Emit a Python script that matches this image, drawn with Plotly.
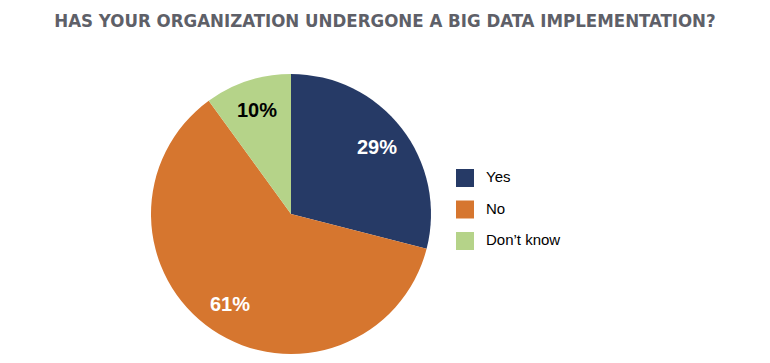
import math
import plotly.graph_objects as go

labels = ["Yes", "No", "Don’t know"]
values = [29, 61, 10]
colors = ["#263a66", "#d6762f", "#b5d389"]
text_colors = ["white", "white", "black"]
title = "HAS YOUR ORGANIZATION UNDERGONE A BIG DATA IMPLEMENTATION?"

W, H = 770, 363
CX, CY, R = 291, 214, 140  # pie centre / radius in pixels (layout)

fig = go.Figure(go.Pie(
    labels=labels,
    values=values,
    sort=False,
    direction="clockwise",
    rotation=0,
    marker=dict(colors=colors, line=dict(width=0)),
    textinfo="none",
    domain=dict(x=[(CX - R) / W, (CX + R) / W], y=[(H - CY - R) / H, (H - CY + R) / H]),
    hoverinfo="label+percent",
    showlegend=False,
))

# percentage labels placed at slice mid-angles (derived from the values)
total = sum(values)
cum = 0
annotations = []
for v, tc in zip(values, text_colors):
    mid = (cum + v / 2) / total * 2 * math.pi
    cum += v
    rr = 0.78 * R
    px = CX + rr * math.sin(mid)
    py = CY - rr * math.cos(mid)
    annotations.append(dict(
        x=px / W, y=1 - py / H, xref="paper", yref="paper",
        text=f"{round(v / total * 100)}%", showarrow=False,
        font=dict(family="Liberation Sans, Arial, sans-serif", size=20, color=tc, weight="bold"),
        xanchor="center", yanchor="middle",
    ))

# legend (swatches + labels)
shapes = []
LX, LY0, LDY, SW = 456, 178, 31.5, 18
for i, (lab, col) in enumerate(zip(labels, colors)):
    yc = LY0 + i * LDY
    shapes.append(dict(
        type="rect", xref="paper", yref="paper",
        x0=LX / W, x1=(LX + SW) / W,
        y0=1 - (yc + SW / 2) / H, y1=1 - (yc - SW / 2) / H,
        fillcolor=col, line=dict(width=0),
    ))
    annotations.append(dict(
        x=484 / W, y=1 - (yc - 1.5) / H, xref="paper", yref="paper",
        text=lab, showarrow=False, xanchor="left", yanchor="middle",
        font=dict(family="Liberation Sans, Arial, sans-serif", size=15, color="black"),
    ))

fig.update_layout(
    width=W, height=H,
    margin=dict(l=0, r=0, t=0, b=0),
    paper_bgcolor="white",
    plot_bgcolor="white",
    title=dict(
        text=title,
        x=0.5, xanchor="center",
        y=1 - 21 / H, yanchor="middle",
        font=dict(family="DejaVu Sans Condensed, Liberation Sans Narrow, sans-serif", size=18.5, color="#5e6068", weight="bold"),
    ),
    annotations=annotations,
    shapes=shapes,
    showlegend=False,
)

fig.write_html(
    "out.html",
    config={"displayModeBar": False},
    post_script="document.body.style.margin='0px';document.body.style.overflow='hidden';",
)
